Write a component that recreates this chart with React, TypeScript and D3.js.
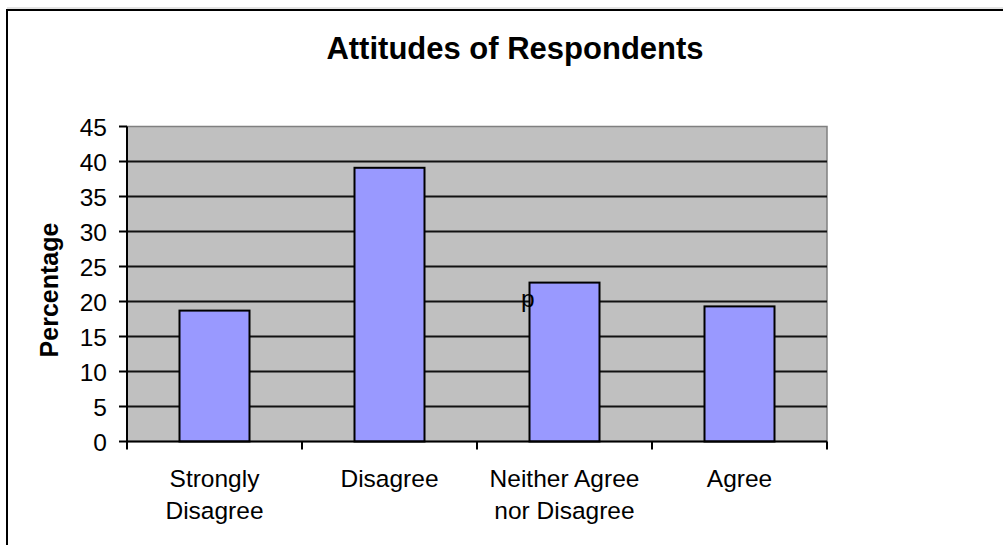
import * as d3 from 'd3';

const CATEGORIES = ['Strongly Disagree', 'Disagree', 'Neither Agree nor Disagree', 'Agree'];
const CATEGORY_LINES = [['Strongly', 'Disagree'], ['Disagree'], ['Neither Agree', 'nor Disagree'], ['Agree']];
const VALUES = [18.7, 39.1, 22.7, 19.3];
const Y_TICKS = [0, 5, 10, 15, 20, 25, 30, 35, 40, 45];

const W = 1003;
const H = 545;
const FONT = '"Liberation Sans", Arial, sans-serif';

export default function App() {
  const plot = { left: 127, right: 827, top: 126.5, bottom: 441.5 };

  const x = d3.scaleBand<string>()
    .domain(CATEGORIES)
    .range([plot.left, plot.right])
    .paddingInner(0.6)
    .paddingOuter(0.3);
  const step = x.step();

  const y = d3.scaleLinear().domain([0, 45]).range([plot.bottom, plot.top]);

  const catEdges = CATEGORIES.map((_, i) => plot.left + i * step).concat([plot.right]);

  return (
    <svg
      width={W}
      height={H}
      style={{ position: 'absolute', left: 0, top: 0, background: 'white', fontFamily: FONT }}
    >
      {/* outer frame */}
      <line x1={7} x2={W} y1={8} y2={8} stroke="#c8c8c8" strokeWidth={1} />
      <rect x={7} y={10} width={W + 20} height={H + 20} fill="white" stroke="black" strokeWidth={2} />

      <text x={515} y={59} textAnchor="middle" fontSize={31} fontWeight={700} fill="black">
        Attitudes of Respondents
      </text>

      {/* plot area */}
      <rect
        x={plot.left}
        y={plot.top}
        width={plot.right - plot.left}
        height={plot.bottom - plot.top}
        fill="#c0c0c0"
        stroke="#808080"
        strokeWidth={1.5}
      />

      {/* gridlines */}
      {Y_TICKS.filter(t => t > 0 && t < 45).map(t => (
        <line key={t} x1={plot.left} x2={plot.right} y1={y(t)} y2={y(t)} stroke="#111" strokeWidth={2} />
      ))}

      {/* bars */}
      {CATEGORIES.map((c, i) => (
        <rect
          key={c}
          x={x(c)}
          y={y(VALUES[i])}
          width={x.bandwidth()}
          height={y(0) - y(VALUES[i])}
          fill="#9999ff"
          stroke="black"
          strokeWidth={2}
        />
      ))}

      {/* y axis */}
      <line x1={plot.left} x2={plot.left} y1={plot.top} y2={plot.bottom + 1} stroke="black" strokeWidth={2} />
      {Y_TICKS.map(t => (
        <g key={t}>
          <line x1={plot.left - 8} x2={plot.left} y1={y(t)} y2={y(t)} stroke="black" strokeWidth={2} />
          <text x={107} y={y(t) + 9} textAnchor="end" fontSize={24.5} fill="black">{t}</text>
        </g>
      ))}

      {/* x axis */}
      <line x1={plot.left} x2={plot.right} y1={plot.bottom} y2={plot.bottom} stroke="black" strokeWidth={2} />
      {catEdges.map((e, i) => (
        <line key={i} x1={e} x2={e} y1={plot.bottom} y2={plot.bottom + 8} stroke="black" strokeWidth={2} />
      ))}
      {CATEGORIES.map((c, i) => (
        <text key={c} textAnchor="middle" fontSize={24.5} fill="black">
          {CATEGORY_LINES[i].map((ln, j) => (
            <tspan key={j} x={(x(c) ?? 0) + x.bandwidth() / 2} y={487 + j * 32}>{ln}</tspan>
          ))}
        </text>
      ))}

      <text
        transform={`translate(58,290) rotate(-90)`}
        textAnchor="middle"
        fontSize={25}
        fontWeight={700}
        fill="black"
      >
        Percentage
      </text>

      {/* stray label in source */}
      <text x={521} y={307} fontSize={24.5} fill="black">p</text>
    </svg>
  );
}
